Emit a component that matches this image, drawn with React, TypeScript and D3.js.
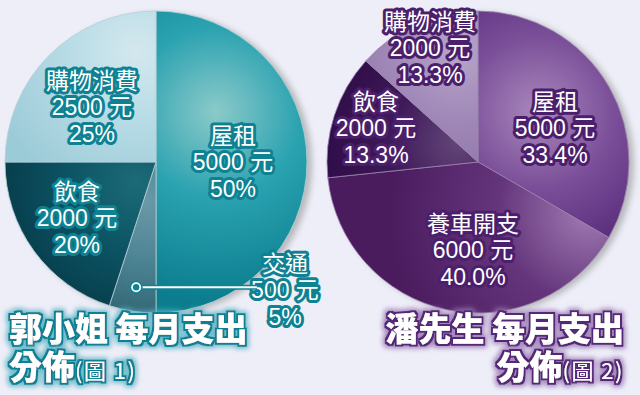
import * as d3 from "d3";
import React from "react";

// 郭小姐 (圖 1)
const leftCategories = ["屋租", "交通", "飲食", "購物消費"];
const leftAmounts = [5000, 500, 2000, 2500];
const leftPercents = ["50%", "5%", "20%", "25%"];

// 潘先生 (圖 2)
const rightCategories = ["屋租", "養車開支", "飲食", "購物消費"];
const rightAmounts = [5000, 6000, 2000, 2000];
const rightPercents = ["33.4%", "40.0%", "13.3%", "13.3%"];

const W = 640;
const H = 395;
const R = 151;
const FONT = "'Liberation Sans', 'Noto Sans CJK TC', sans-serif";
const TITLE_FONT = "'Noto Sans CJK TC', sans-serif";

// label anchor offsets (middle line) from pie centre
const leftLabelPos: [number, number][] = [[77, 0], [129, 128], [-79, 56], [-64, -55]];
const rightLabelPos: [number, number][] = [[77, -34], [-5, 88], [-102, -34], [-48, -114]];

// radial gradient stops per slice: [inner, mid, outer], focus offset from centre
const leftFills = [
  { id: "l0", c: ["#8ccaca", "#2aa2b0", "#0b7d8e"], f: [60, -50], r: 190 },
  { id: "l1", c: ["#6a98a8", "#4d8494", "#2a5e6c"], f: [-10, 40], r: 130 },
  { id: "l2", c: ["#1c6a78", "#0c5464", "#063846"], f: [-20, 20], r: 150 },
  { id: "l3", c: ["#d4e8ee", "#b8dce6", "#9ccbd8"], f: [-20, -110], r: 150 },
];
const rightFills = [
  { id: "r0", c: ["#a888bc", "#7a4e98", "#4e2272"], f: [60, -50], r: 170 },
  { id: "r1", c: ["#a07cb2", "#65357c", "#4a1c5e"], f: [110, 50], r: 200 },
  { id: "r2", c: ["#64467a", "#3e1a58", "#2c0a44"], f: [-20, -20], r: 150 },
  { id: "r3", c: ["#b8a4c8", "#a088b8", "#8a70a4"], f: [-20, -110], r: 150 },
];

type PieProps = {
  cx: number;
  cy: number;
  cats: string[];
  amounts: number[];
  pcts: string[];
  labelPos: [number, number][];
  fills: { id: string; c: string[]; f: number[]; r: number }[];
  outline: string;
  border: string;
};

const Pie = ({ cx, cy, cats, amounts, pcts, labelPos, fills, outline, border }: PieProps) => {
  const pie = d3.pie<number>().sort(null).value((d) => d);
  const arcs = pie(amounts);
  const arc = d3.arc<d3.PieArcDatum<number>>().innerRadius(0).outerRadius(R);
  return (
    <g transform={`translate(${cx},${cy})`}>
      <defs>
        {fills.map((f) => (
          <radialGradient
            key={f.id}
            id={f.id}
            gradientUnits="userSpaceOnUse"
            cx={f.f[0]}
            cy={f.f[1]}
            r={f.r}
          >
            <stop offset="0" stopColor={f.c[0]} />
            <stop offset="0.45" stopColor={f.c[1]} />
            <stop offset="1" stopColor={f.c[2]} />
          </radialGradient>
        ))}
      </defs>
      <circle r={R} fill="#888" filter="url(#shadow)" />
      {arcs.map((a, i) => (
        <path
          key={i}
          d={arc(a) || ""}
          fill={`url(#${fills[i].id})`}
          stroke={border}
          strokeWidth={0.8}
        />
      ))}
      {arcs.map((a, i) => {
        const [x, y] = labelPos[i];
        const lines = [cats[i], `${amounts[i]} 元`, pcts[i]];
        return (
          <text
            key={i}
            x={x}
            y={y}
            textAnchor="middle"
            fontFamily={FONT}
            fontSize={23}
            fill="#fff"
            stroke={outline}
            strokeWidth={6}
            strokeLinejoin="round"
            style={{ paintOrder: "stroke" }}
          >
            {lines.map((l, j) => (
              <tspan key={j} x={x} y={y + (j - 1) * 26.5 + 8}>
                {l}
              </tspan>
            ))}
          </text>
        );
      })}
    </g>
  );
};

const Title = ({
  x,
  y,
  anchor,
  line1,
  line2,
  fig,
  filter,
}: {
  x: number;
  y: number;
  anchor: "start" | "end";
  line1: string;
  line2: string;
  fig: string;
  filter: string;
}) => {
  const common = {
    textAnchor: anchor,
    fontFamily: TITLE_FONT,
    fontWeight: 900,
    fill: "#fff",
    filter: `url(#${filter})`,
  };
  return (
    <g>
      <text {...common} x={x} y={y} fontSize={33}>
        {line1}
      </text>
      <text {...common} x={x} y={y + 38} fontSize={33}>
        {line2}
        <tspan fontSize={22} fontWeight={400} letterSpacing={1.5}>
          {fig}
        </tspan>
      </text>
    </g>
  );
};

const GlowFilter = ({ id, edge, glow }: { id: string; edge: string; glow: string }) => (
  <filter id={id} x="-10%" y="-40%" width="120%" height="180%">
    <feMorphology in="SourceAlpha" operator="dilate" radius="1.6" result="d1" />
    <feFlood floodColor={edge} />
    <feComposite in2="d1" operator="in" result="edge" />
    <feMorphology in="SourceAlpha" operator="dilate" radius="4" result="d2" />
    <feGaussianBlur in="d2" stdDeviation="2.5" result="b2" />
    <feFlood floodColor={glow} floodOpacity="0.85" />
    <feComposite in2="b2" operator="in" result="glow" />
    <feMerge>
      <feMergeNode in="glow" />
      <feMergeNode in="edge" />
      <feMergeNode in="SourceGraphic" />
    </feMerge>
  </filter>
);

export default function App() {
  const lp = d3.pie<number>().sort(null).value((d) => d)(leftAmounts);
  const tr = lp[1];
  const mid = (tr.startAngle + tr.endAngle) / 2;
  const dotR = R * 0.84;
  const dot = [Math.sin(mid) * dotR, -Math.cos(mid) * dotR];
  const lcx = 156;
  const lcy = 162;
  return (
    <svg
      width={W}
      height={H}
      style={{ position: "absolute", left: 0, top: 0 }}
      viewBox={`0 0 ${W} ${H}`}
    >
      <defs>
        <filter id="shadow" x="-20%" y="-20%" width="140%" height="140%">
          <feGaussianBlur stdDeviation="3" />
          <feOffset dx="5" dy="2" result="o" />
          <feComponentTransfer>
            <feFuncA type="linear" slope="0.55" />
          </feComponentTransfer>
        </filter>
        <GlowFilter id="glowL" edge="#0f8094" glow="#5ab4c4" />
        <GlowFilter id="glowR" edge="#562678" glow="#9a78b4" />
      </defs>
      <rect width={W} height={H} fill="#eeeef8" />
      <Pie
        cx={lcx}
        cy={lcy}
        cats={leftCategories}
        amounts={leftAmounts}
        pcts={leftPercents}
        labelPos={leftLabelPos}
        fills={leftFills}
        outline="#0e8292"
        border="#b4d0d8"
      />
      <Pie
        cx={478}
        cy={162}
        cats={rightCategories}
        amounts={rightAmounts}
        pcts={rightPercents}
        labelPos={rightLabelPos}
        fills={rightFills}
        outline="#4c1f6c"
        border="#9c84b0"
      />
      {/* 交通 leader */}
      <g transform={`translate(${lcx},${lcy})`}>
        <line x1={dot[0]} y1={dot[1]} x2={101} y2={dot[1]} stroke="#0e8292" strokeWidth={5} />
        <line x1={dot[0]} y1={dot[1]} x2={101} y2={dot[1]} stroke="#fff" strokeWidth={2} />
        <circle cx={dot[0]} cy={dot[1]} r={6.5} fill="#0e8292" />
        <circle cx={dot[0]} cy={dot[1]} r={5} fill="#fff" />
        <circle cx={dot[0]} cy={dot[1]} r={3.2} fill="#0e8292" />
      </g>
      <Title x={9} y={341} anchor="start" line1="郭小姐 每月支出" line2="分佈" fig="(圖 1)" filter="glowL" />
      <Title x={624} y={341} anchor="end" line1="潘先生 每月支出" line2="分佈" fig="(圖 2)" filter="glowR" />
    </svg>
  );
}
